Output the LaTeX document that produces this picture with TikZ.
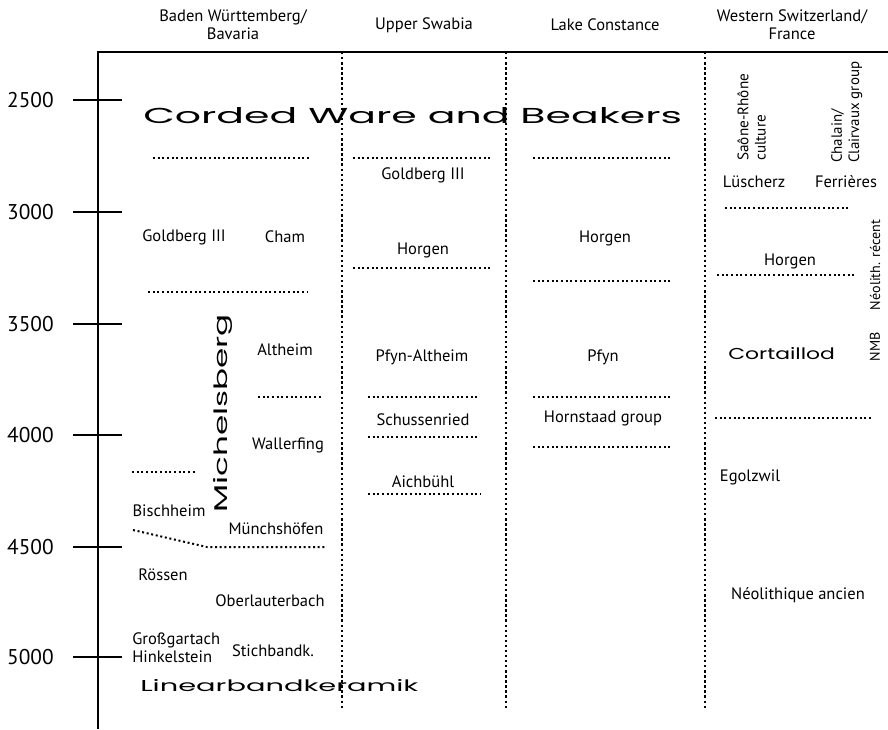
\documentclass[tikz,border=0pt]{standalone}
\usepackage{fontspec}
\setmainfont{PT Sans}
\newfontfamily\widefont{Poppins}
\usetikzlibrary{positioning}

\begin{document}
\begin{tikzpicture}[
x=0.75pt, y=-0.75pt,
lbl/.style={font=\fontsize{12.4}{13.5}\selectfont, inner sep=0pt},
head/.style={lbl, align=center},
turned/.style={font=\fontsize{10.6}{12.2}\selectfont, inner sep=0pt, rotate=90, align=left},
year/.style={font=\fontsize{16}{18}\selectfont, anchor=east, inner sep=0pt},
wide/.style={inner sep=0pt, anchor=base west},
axis/.style={line width=1.5pt},
col/.style={line width=1.8pt, dotted},
bound/.style={line width=1.5pt, dotted}
]
\useasboundingbox (0,0) rectangle (888,729);

% axis and time scale
\draw[axis] (98,729) -- (98,52) -- (888,52);
\foreach \yr/\py in {2500/100,3000/212,3500/324,4000/435,4500/547,5000/657}{
  \draw[axis] (73,\py) -- (122,\py);
  \node[year] (y\yr) at (54,\py) {\yr};
}

% region columns
\draw[col] (342,52) -- (342,709);
\draw[col] (506,52) -- (506,709);
\draw[col] (705,52) -- (705,709);

\node[head] (bw) at (233,25) {Baden Württemberg/\\Bavaria};
\node[head] (us) at (424,25) {Upper Swabia};
\node[head] (lc) at (605,25) {Lake Constance};
\node[head] (ws) at (792,25) {Western Switzerland/\\France};

% wide labels
\node[wide] (corded) at (143,123) {\resizebox{404pt}{12pt}{\widefont Corded Ware and Beakers}};
\node[wide] (lbk) at (140,691) {\resizebox{208.5pt}{9pt}{\widefont Linearbandkeramik}};
\node[wide, rotate=90] (michels) at (227,513) {\resizebox{149pt}{10.5pt}{\widefont Michelsberg}};
\node[wide] (cortaillod) at (728,359) {\resizebox{80pt}{9pt}{\widefont Cortaillod}};

% Baden Wuerttemberg / Bavaria
\draw[bound] (153,158) -- (310,158);
\draw[bound] (148,292) -- (307,292);
\draw[bound] (258,397) -- (322,397);
\draw[bound] (132,472) -- (195,472);
\draw[bound] (133,530) -- (207,547) -- (325,547);
\node[lbl] (goldbw) at (184,237) {Goldberg III};
\node[lbl] (cham) at (285,237) {Cham};
\node[lbl] (altheim) at (285,350) {Altheim};
\node[lbl] (wallerf) at (288,445) {Wallerfing};
\node[lbl] (bischh) at (169,511) {Bischheim};
\node[lbl] (muench) at (276,529) {Münchshöfen};
\node[lbl] (roessen) at (163,575) {Rössen};
\node[lbl] (oberl) at (270,601) {Oberlauterbach};
\node[lbl, align=left, anchor=west] (grossg) at (132,648) {Großgartach\\Hinkelstein};
\node[lbl] (stichb) at (273,651) {Stichbandk.};

% Upper Swabia
\draw[bound] (353,158) -- (493,158);
\draw[bound] (353,268) -- (493,268);
\draw[bound] (368,397) -- (479,397);
\draw[bound] (368,437) -- (480,437);
\draw[bound] (368,494) -- (481,494);
\node[lbl] (goldus) at (423,175) {Goldberg III};
\node[lbl] (horgus) at (423,250) {Horgen};
\node[lbl] (pfynalt) at (422,357) {Pfyn-Altheim};
\node[lbl] (schuss) at (423,420) {Schussenried};
\node[lbl] (aichb) at (423,482) {Aichbühl};

% Lake Constance
\draw[bound] (533,158) -- (673,158);
\draw[bound] (533,281) -- (673,281);
\draw[bound] (533,397) -- (673,397);
\draw[bound] (533,447) -- (673,447);
\node[lbl] (horglc) at (605,238) {Horgen};
\node[lbl] (pfyn) at (603,357) {Pfyn};
\node[lbl] (hornst) at (603,418) {Hornstaad group};

% Western Switzerland / France
\draw[bound] (725,208) -- (850,208);
\draw[bound] (717,275) -- (857,275);
\draw[bound] (715,418) -- (872,418);
\node[turned, font=\fontsize{11.4}{13}\selectfont, anchor=north west] (saone) at (737,161) {Saône-Rhône\\culture};
\node[turned, font=\fontsize{11.2}{13}\selectfont, anchor=north west] (chalain) at (831,163) {Chalain/\\Clairvaux group};
\node[lbl] (luesch) at (754,182) {Lüscherz};
\node[lbl] (ferr) at (846,182) {Ferrières};
\node[lbl] (horgws) at (790,261) {Horgen};
\node[turned] (recent) at (875,265) {Néolith. récent};
\node[turned] (nmb) at (875,347) {NMB};
\node[lbl] (egolz) at (750,477) {Egolzwil};
\node[lbl] (ancien) at (798,595) {Néolithique ancien};

\end{tikzpicture}
\end{document}
